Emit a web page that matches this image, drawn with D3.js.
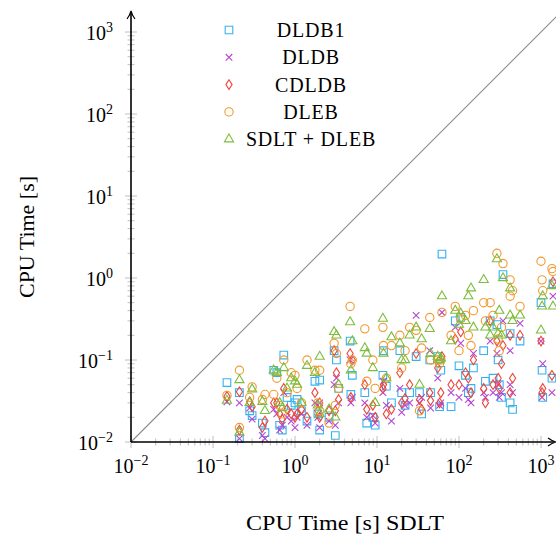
<!DOCTYPE html>
<html>
<head>
<meta charset="utf-8">
<script src="https://cdn.jsdelivr.net/npm/d3@7"></script>
<style>
  body { margin: 0; background: #fff; }
  svg { display: block; font-family: "Liberation Serif", "DejaVu Serif", serif; }
</style>
</head>
<body>
<svg id="chart"></svg>
<script>
// instance runtimes: x = SDLT time, one y list per method
const instX = [0.148, 0.21, 0.21, 0.30, 0.28, 0.40, 0.43, 0.55, 0.60, 0.73, 0.65, 0.80, 0.70, 0.90, 1.0, 1.06, 1.2, 1.4, 1.75, 2.0,
  2.0, 1.9, 2.6, 3.0, 3.2, 3.1, 3.4, 4.7, 5.0, 4.8, 7.1, 7.5, 8.9, 9.5, 11.8, 12, 13, 15, 19, 20,
  22, 25, 30, 33, 35, 44, 45, 55, 62, 60, 58, 80, 90, 100, 105, 120, 130, 140, 150, 200,
  210, 240, 260, 290, 300, 310, 344, 330, 420, 420, 450, 555, 1000, 1030, 1050, 1360, 1400];
const dldb1 = [0.053, 0.040, 0.011, 0.021, 0.024, 0.017, 0.013, 0.075, 0.070, 0.115, 0.016, 0.035, 0.014, 0.028, 0.030, 0.033, 0.024, 0.018, 0.055, 0.057,
  0.014, 0.022, 0.020, 0.13, 0.10, 0.012, 0.045, 0.17, 0.065, 0.038, 0.040, 0.017, 0.020, 0.016, 0.065, 0.13, 0.048, 0.030, 0.13, 0.040,
  0.028, 0.040, 0.11, 0.040, 0.022, 0.10, 0.040, 0.11, 1.96, 0.075, 0.027, 0.027, 0.30, 0.085, 0.33, 0.065, 0.040, 0.045, 0.080, 0.13,
  0.055, 0.30, 0.060, 0.27, 0.10, 0.050, 1.1, 0.035, 0.21, 0.030, 0.025, 0.17, 0.50, 0.075, 0.035, 0.060, 0.85];
const dldb = [0.031, 0.030, 0.011, 0.019, 0.026, 0.012, 0.011, 0.025, 0.022, 0.040, 0.014, 0.020, 0.016, 0.018, 0.015, 0.020, 0.022, 0.016, 0.030, 0.030,
  0.015, 0.020, 0.018, 0.050, 0.060, 0.016, 0.030, 0.10, 0.035, 0.030, 0.030, 0.020, 0.021, 0.017, 0.040, 0.055, 0.028, 0.018, 0.045, 0.023,
  0.028, 0.030, 0.35, 0.030, 0.035, 0.13, 0.026, 0.060, 0.38, 0.030, 0.028, 0.040, 0.25, 0.035, 0.16, 0.045, 0.033, 0.030, 0.12, 0.040,
  0.035, 0.17, 0.040, 0.12, 0.050, 0.035, 0.30, 0.040, 0.13, 0.050, 0.040, 0.28, 0.17, 0.035, 0.090, 0.040, 0.60];
const cdldb = [0.036, 0.041, 0.014, 0.027, 0.031, 0.015, 0.018, 0.030, 0.030, 0.045, 0.022, 0.025, 0.019, 0.022, 0.020, 0.022, 0.025, 0.020, 0.040, 0.030,
  0.020, 0.024, 0.024, 0.13, 0.070, 0.024, 0.033, 0.12, 0.10, 0.035, 0.050, 0.025, 0.028, 0.020, 0.045, 0.050, 0.022, 0.025, 0.070, 0.030,
  0.034, 0.050, 0.12, 0.033, 0.025, 0.040, 0.032, 0.080, 0.11, 0.040, 0.030, 0.050, 0.18, 0.050, 0.22, 0.070, 0.060, 0.040, 0.10, 0.045,
  0.030, 0.30, 0.050, 0.17, 0.060, 0.045, 0.15, 0.090, 0.20, 0.040, 0.060, 0.20, 0.17, 0.040, 0.045, 0.065, 0.90];
const dleb = [0.037, 0.075, 0.015, 0.047, 0.035, 0.033, 0.038, 0.038, 0.060, 0.10, 0.028, 0.040, 0.022, 0.070, 0.065, 0.045, 0.030, 0.10, 0.075, 0.075,
  0.024, 0.030, 0.017, 0.16, 0.12, 0.028, 0.045, 0.45, 0.10, 0.090, 0.24, 0.055, 0.10, 0.045, 0.25, 0.15, 0.060, 0.15, 0.20, 0.080,
  0.13, 0.25, 0.23, 0.024, 0.14, 0.33, 0.10, 0.10, 0.38, 0.10, 0.090, 0.20, 0.45, 0.13, 0.32, 0.35, 0.20, 0.15, 0.40, 0.50,
  0.30, 0.50, 0.35, 2.0, 0.18, 0.13, 1.5, 0.25, 0.95, 0.60, 0.70, 0.45, 1.6, 0.95, 0.70, 1.3, 1.2];
const sdltDleb = [0.032, 0.057, 0.013, 0.044, 0.030, 0.031, 0.024, 0.075, 0.070, 0.080, 0.030, 0.045, 0.026, 0.060, 0.055, 0.050, 0.030, 0.085, 0.070, 0.11,
  0.022, 0.028, 0.025, 0.22, 0.20, 0.020, 0.050, 0.29, 0.17, 0.075, 0.14, 0.12, 0.080, 0.030, 0.32, 0.12, 0.060, 0.19, 0.16, 0.10,
  0.10, 0.20, 0.25, 0.050, 0.18, 0.24, 0.12, 0.11, 0.60, 0.105, 0.10, 0.17, 0.40, 0.27, 0.37, 0.30, 0.60, 0.75, 0.25, 0.95,
  0.25, 0.20, 0.25, 1.7, 0.21, 0.40, 1.0, 0.20, 0.75, 0.35, 0.30, 0.35, 0.23, 0.45, 0.60, 0.80, 0.45];

const seriesNames = ["DLDB1", "DLDB", "CDLDB", "DLEB", "SDLT + DLEB"];
const seriesValues = [dldb1, dldb, cdldb, dleb, sdltDleb];
const seriesColors = ["#35b2ef", "#b546d2", "#e9483f", "#f29a2f", "#7dbd3c"];
const seriesShapes = ["square", "cross", "diamond", "circle", "triangle"];
const tickExps = [-2, -1, 0, 1, 2, 3];

const width = 556, height = 536;
const x0 = 131, y0 = 442, decade = 82, decades = 5.25;

const svg = d3.select("#chart")
  .attr("width", width)
  .attr("height", height);

const x = d3.scaleLog().domain([1e-2, Math.pow(10, decades - 2)]).range([x0, x0 + decade * decades]);
const y = d3.scaleLog().domain([1e-2, Math.pow(10, decades - 2)]).range([y0, y0 - decade * decades]);

// minor + major ticks
const minor = [];
for (let e = -2; e < 4; e++) for (let m = 2; m <= 9; m++) minor.push(m * Math.pow(10, e));
const majors = tickExps.map(e => Math.pow(10, e));

const ticks = svg.append("g").attr("stroke", "#b0b0b0").attr("stroke-width", 0.8);
ticks.selectAll(".mx").data(minor.filter(v => x(v) < width)).enter().append("line")
  .attr("x1", d => x(d)).attr("x2", d => x(d)).attr("y1", y0 - 3.5).attr("y2", y0 + 3.5);
ticks.selectAll(".my").data(minor.filter(v => y(v) > 14)).enter().append("line")
  .attr("y1", d => y(d)).attr("y2", d => y(d)).attr("x1", x0 - 3.5).attr("x2", x0 + 3.5);
ticks.selectAll(".Mx").data(majors).enter().append("line")
  .attr("x1", d => x(d)).attr("x2", d => x(d)).attr("y1", y0 - 6).attr("y2", y0 + 6);
ticks.selectAll(".My").data(majors).enter().append("line")
  .attr("y1", d => y(d)).attr("y2", d => y(d)).attr("x1", x0 - 6).attr("x2", x0 + 6);

// diagonal y = x
svg.append("line")
  .attr("x1", x(1e-2)).attr("y1", y(1e-2))
  .attr("x2", x(2e3)).attr("y2", y(2e3))
  .attr("stroke", "#8c8c8c").attr("stroke-width", 1.1);

// markers
const symbolFor = {
  square: d3.symbol().type(d3.symbolSquare).size(58),
  cross: d3.symbol().type(d3.symbolX).size(30),
  diamond: "M0,-4.8L3.1,0L0,4.8L-3.1,0Z",
  circle: d3.symbol().type(d3.symbolCircle).size(54),
  triangle: d3.symbol().type(d3.symbolTriangle).size(36)
};
function shapePath(s) {
  const f = symbolFor[s];
  return typeof f === "string" ? f : f();
}

seriesValues.forEach((vals, i) => {
  svg.append("g")
    .selectAll("path")
    .data(vals.map((v, j) => [instX[j], v]))
    .enter()
    .append("path")
    .attr("d", shapePath(seriesShapes[i]))
    .attr("transform", d => `translate(${x(d[0])},${y(d[1])})`)
    .attr("fill", "none")
    .attr("stroke", seriesColors[i])
    .attr("stroke-width", 1.1);
});

// axes with arrows
const axes = svg.append("g").attr("stroke", "#000").attr("stroke-width", 1.6).attr("fill", "none");
axes.append("line").attr("x1", x0).attr("y1", y0).attr("x2", width - 2).attr("y2", y0);
axes.append("line").attr("x1", x0).attr("y1", y0).attr("x2", x0).attr("y2", 13);
axes.append("path").attr("d", `M${x0 - 4},${19} Q${x0 - 1},${15} ${x0},${11} Q${x0 + 1},${15} ${x0 + 4},${19}`)
  .attr("stroke-width", 1.2);
axes.append("path").attr("d", `M${width - 8},${y0 - 4} Q${width - 4},${y0 - 1} ${width},${y0} Q${width - 4},${y0 + 1} ${width - 8},${y0 + 4}`)
  .attr("stroke-width", 1.2);

// tick labels
function powLabel(sel, e) {
  sel.append("tspan").text("10");
  sel.append("tspan").attr("dy", -8).attr("font-size", 14).text(e < 0 ? "\u2212" + (-e) : e);
}
tickExps.forEach(e => {
  const v = Math.pow(10, e);
  svg.append("text")
    .attr("x", x(v)).attr("y", y0 + 31)
    .attr("text-anchor", "middle").attr("font-size", 20)
    .call(powLabel, e);
  svg.append("text")
    .attr("x", x0 - 18).attr("y", y(v) + 8)
    .attr("text-anchor", "end").attr("font-size", 20)
    .call(powLabel, e);
});

// axis titles
svg.append("text")
  .attr("x", 345).attr("y", 530)
  .attr("text-anchor", "middle").attr("font-size", 20)
  .attr("textLength", 198).attr("lengthAdjust", "spacingAndGlyphs")
  .text("CPU Time [s] SDLT");
svg.append("text")
  .attr("transform", "translate(34,237) rotate(-90)")
  .attr("text-anchor", "middle").attr("font-size", 20)
  .attr("textLength", 122).attr("lengthAdjust", "spacingAndGlyphs")
  .text("CPU Time [s]");

// legend
const legend = svg.append("g");
seriesNames.forEach((name, i) => {
  const ly = 30 + i * 27.3;
  legend.append("path")
    .attr("d", shapePath(seriesShapes[i]))
    .attr("transform", `translate(229,${ly})`)
    .attr("fill", "none").attr("stroke", seriesColors[i]).attr("stroke-width", 1.1);
  legend.append("text")
    .attr("x", 311).attr("y", ly + 7)
    .attr("text-anchor", "middle").attr("font-size", 20)
    .attr("letter-spacing", 0.8)
    .text(name);
});
</script>
</body>
</html>
